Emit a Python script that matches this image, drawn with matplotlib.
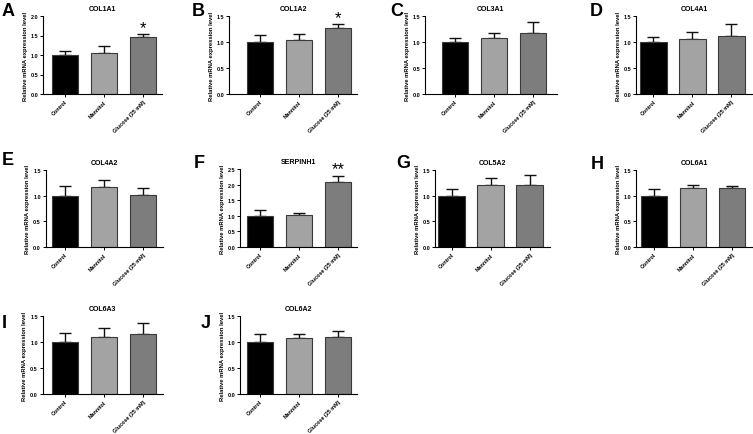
import matplotlib
matplotlib.use("Agg")
import matplotlib.pyplot as plt
import numpy as np

plt.rcParams['font.family'] = ['Liberation Sans', 'DejaVu Sans']

groups = ["Control", "Mannitol", "Glucose (25 mM)"]
letters = ["A", "B", "C", "D", "E", "F", "G", "H", "I", "J"]
genes = ["COL1A1", "COL1A2", "COL3A1", "COL4A1", "COL4A2",
         "SERPINH1", "COL5A2", "COL6A1", "COL6A3", "COL6A2"]
means = [
    [1.00, 1.04, 1.45],
    [1.00, 1.04, 1.27],
    [1.00, 1.08, 1.18],
    [1.00, 1.05, 1.12],
    [1.00, 1.16, 1.02],
    [1.00, 1.02, 2.08],
    [1.00, 1.21, 1.20],
    [1.00, 1.15, 1.14],
    [1.00, 1.10, 1.16],
    [1.00, 1.08, 1.10],
]
err_tops = [
    [1.11, 1.23, 1.53],
    [1.14, 1.15, 1.34],
    [1.07, 1.18, 1.39],
    [1.09, 1.19, 1.35],
    [1.19, 1.30, 1.15],
    [1.17, 1.09, 2.29],
    [1.13, 1.35, 1.40],
    [1.13, 1.21, 1.19],
    [1.18, 1.27, 1.37],
    [1.15, 1.15, 1.21],
]
ymax = [2.0, 1.5, 1.5, 1.5, 1.5, 2.5, 1.5, 1.5, 1.5, 1.5]
stars = ["*", "*", "", "", "", "**", "", "", "", ""]

colors = ["#000000", "#a3a3a3", "#7d7d7d"]

# layout in pixels: left, right, y0, ytop, first bar center
layout = [
    (43.3, 162, 95, 17, 65),
    (229.3, 356.7, 95, 17, 260),
    (425, 556.7, 95, 17, 455),
    (636, 752, 95, 17, 653.3),
    (45.7, 162.7, 248, 171, 65),
    (240, 356.7, 248, 170, 260),
    (435, 550, 248, 171, 451.7),
    (636, 752.5, 248, 171, 654),
    (42.7, 162.7, 395, 317, 65),
    (240, 356.7, 395, 317, 260),
]
letter_pos = [(2, 16), (192, 16), (390, 16), (590, 16),
              (2, 165), (194, 168), (396, 168), (591, 169),
              (2, 328), (201, 328)]
spacing = 39.0
W, H = 753, 435

fig = plt.figure(figsize=(W / 100, H / 100), dpi=100)

for i in range(len(genes)):
    L, R, y0, yt, c0 = layout[i]
    ax = fig.add_axes([L / W, (H - y0) / H, (R - L) / W, (y0 - yt) / H])
    x = np.arange(3)
    m = np.array(means[i])
    e = np.array(err_tops[i]) - m
    ax.bar(x, m, width=0.68, color=colors, edgecolor="#3a3a3a", linewidth=0.8, zorder=2)
    ax.errorbar(x, m, yerr=[np.zeros(3), e], fmt="none", ecolor="#111111",
                elinewidth=1.0, capsize=4, capthick=1.0, zorder=1)
    xl = -(c0 - L) / spacing
    xr = 2 + (R - (c0 + 2 * spacing)) / spacing
    ax.set_xlim(xl, xr)
    ax.set_ylim(0, ymax[i])
    ticks = np.arange(0, ymax[i] + 0.01, 0.5)
    ax.set_yticks(ticks)
    ax.set_yticklabels([f"{t:.1f}" for t in ticks], fontsize=4, fontweight="bold")
    ax.set_xticks(x)
    ax.set_xticklabels(groups, rotation=45, ha="right", rotation_mode="anchor",
                       fontsize=3.9, fontweight="bold")
    ax.tick_params(axis="both", length=2, width=0.7, pad=1.5)
    for s in ["top", "right"]:
        ax.spines[s].set_visible(False)
    for s in ["left", "bottom"]:
        ax.spines[s].set_linewidth(0.8)
    ax.set_ylabel("Relative mRNA expression level", fontsize=4.2, fontweight="bold", labelpad=2)
    ax.set_title(genes[i], fontsize=5, fontweight="bold", pad=4)
    if stars[i]:
        ax.text(2, err_tops[i][2] - ymax[i] * 0.01, stars[i], ha="center", va="bottom",
                fontsize=12, fontweight="normal")
    lx, ly = letter_pos[i]
    fig.text(lx / W, 1 - ly / H, letters[i], fontsize=13, fontweight="bold",
             ha="left", va="baseline")

fig.savefig("out.png", dpi=100)
